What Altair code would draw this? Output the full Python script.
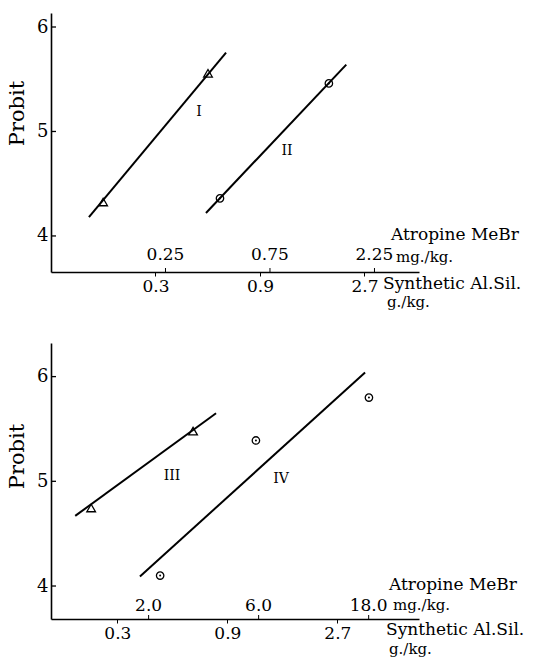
import altair as alt
import pandas as pd

FONT = "DejaVu Serif"

# ---------------- shared tick values ----------------
alsil_ticks = [0.3, 0.9, 2.7]            # Synthetic Al.Sil. g./kg.
y_ticks = [4, 5, 6]

# ---------------- panel 1 (I, II) ----------------
p1_tri_x = [0.173, 0.521]
p1_tri_y = [4.325, 5.557]
p1_circ_x = [0.591, 1.857]
p1_circ_y = [4.36, 5.46]
p1_lineI_x = [0.149, 0.630]
p1_lineI_y = [4.18, 5.755]
p1_lineII_x = [0.510, 2.23]
p1_lineII_y = [4.22, 5.64]
p1_lab = ["I", "II"]
p1_lab_x = [0.474, 1.195]
p1_lab_y = [5.19, 4.81]
p1_atropine = [0.25, 0.75, 2.25]          # Atropine MeBr mg./kg.
p1_atropine_lbl = ["0.25", "0.75", "2.25"]
p1_ratio = 1.333                          # Al.Sil. g per mg atropine on this axis
p1_xdom = [0.1, 4.79]
p1_ydom = [3.655, 6.134]

# ---------------- panel 2 (III, IV) ----------------
p2_tri_x = [0.231, 0.639]
p2_tri_y = [4.745, 5.48]
p2_circ_x = [0.46, 1.197, 3.70]
p2_circ_y = [4.10, 5.39, 5.80]
p2_lineIII_x = [0.197, 0.804]
p2_lineIII_y = [4.67, 5.65]
p2_lineIV_x = [0.376, 3.56]
p2_lineIV_y = [4.09, 6.04]
p2_lab = ["III", "IV"]
p2_lab_x = [0.518, 1.54]
p2_lab_y = [5.05, 5.02]
p2_atropine = [2.0, 6.0, 18.0]
p2_atropine_lbl = ["2.0", "6.0", "18.0"]
p2_ratio = 0.205
p2_xdom = [0.1547, 6.1]
p2_ydom = [3.685, 6.321]

W = 368


def panel(H, xdom, ydom, tri_x, tri_y, circ_x, circ_y, lines, lab, lab_x, lab_y,
          atro, atro_lbl, ratio, ttl, title_y):
    xs = alt.Scale(type="log", domain=xdom, nice=False)
    ys = alt.Scale(domain=ydom, nice=False, zero=False)
    xax = alt.Axis(values=alsil_ticks, format=".1f", grid=False, tickSize=4,
                   tickColor="black", domainColor="black", domainWidth=1.6,
                   labelFont=FONT, labelFontSize=17, labelColor="black",
                   labelPadding=2, title=None)
    yax = alt.Axis(values=y_ticks, format="d", grid=False, ticks=False,
                   domainColor="black", domainWidth=1.6, labelFont=FONT,
                   labelFontSize=18, labelColor="black", labelPadding=3,
                   title="Probit", titleFont=FONT, titleFontSize=21,
                   titleFontWeight="normal", titleColor="black",
                   titleX=-24, titleY=title_y)

    rows = []
    for name, (lx, ly) in lines.items():
        for a, b in zip(lx, ly):
            rows.append({"x": a, "y": b, "s": name})
    line_df = pd.DataFrame(rows)

    base_line = alt.Chart(line_df).mark_line(color="black", strokeWidth=2).encode(
        x=alt.X("x:Q", scale=xs, axis=xax),
        y=alt.Y("y:Q", scale=ys, axis=yax),
        detail="s:N",
    )

    tri = alt.Chart(pd.DataFrame({"x": tri_x, "y": tri_y})).mark_point(
        shape="triangle-up", filled=False, color="black", strokeWidth=1.3, size=75,
        opacity=1,
    ).encode(x=alt.X("x:Q", scale=xs), y=alt.Y("y:Q", scale=ys))

    circ_df = pd.DataFrame({"x": circ_x, "y": circ_y})
    circ = alt.Chart(circ_df).mark_point(
        shape="circle", filled=False, color="black", strokeWidth=1.3, size=55,
        opacity=1,
    ).encode(x=alt.X("x:Q", scale=xs), y=alt.Y("y:Q", scale=ys))
    dot = alt.Chart(circ_df).mark_point(
        shape="circle", filled=True, color="black", size=4, opacity=1,
    ).encode(x=alt.X("x:Q", scale=xs), y=alt.Y("y:Q", scale=ys))

    labs = alt.Chart(pd.DataFrame({"x": lab_x, "y": lab_y, "t": lab})).mark_text(
        font=FONT, fontSize=14, color="black",
    ).encode(x=alt.X("x:Q", scale=xs), y=alt.Y("y:Q", scale=ys), text="t:N")

    atro_df = pd.DataFrame({"dose": atro, "t": atro_lbl})
    atro_txt = alt.Chart(atro_df).transform_calculate(
        pos=f"datum.dose * {ratio}"
    ).mark_text(font=FONT, fontSize=17, color="black", baseline="middle").encode(
        x=alt.X("pos:Q", scale=xs), y=alt.value(H - ttl[0]), text="t:N")
    atro_tick = alt.Chart(atro_df).transform_calculate(
        pos=f"datum.dose * {ratio}"
    ).mark_rule(color="black", strokeWidth=1).encode(
        x=alt.X("pos:Q", scale=xs), y=alt.value(H), y2=alt.value(H - 4))

    ytick = alt.Chart(pd.DataFrame({"y": y_ticks})).mark_rule(
        color="black", strokeWidth=1.3).encode(
        y=alt.Y("y:Q", scale=ys), x=alt.value(0), x2=alt.value(5))

    def txt(s, x, y, size):
        return alt.Chart(pd.DataFrame({"t": [s]})).mark_text(
            font=FONT, fontSize=size, color="black", align="left",
            baseline="middle").encode(x=alt.value(x), y=alt.value(y), text="t:N")

    ann = (txt("Atropine MeBr", ttl[1], H - ttl[2], 17)
           + txt("mg./kg.", ttl[3], H - ttl[4], 15)
           + txt("Synthetic Al.Sil.", ttl[5], H + ttl[6], 17)
           + txt("g./kg.", ttl[7], H + ttl[8], 15))

    return alt.layer(base_line, tri, circ, dot, labs, atro_txt, atro_tick,
                     ytick, ann).properties(width=W, height=H)


top = panel(259, p1_xdom, p1_ydom, p1_tri_x, p1_tri_y, p1_circ_x, p1_circ_y,
            {"I": (p1_lineI_x, p1_lineI_y), "II": (p1_lineII_x, p1_lineII_y)},
            p1_lab, p1_lab_x, p1_lab_y, p1_atropine, p1_atropine_lbl, p1_ratio,
            [17, 340, 37, 345, 15, 332, 12, 336, 30], 100)
bottom = panel(276, p2_xdom, p2_ydom, p2_tri_x, p2_tri_y, p2_circ_x, p2_circ_y,
               {"III": (p2_lineIII_x, p2_lineIII_y), "IV": (p2_lineIV_x, p2_lineIV_y)},
               p2_lab, p2_lab_x, p2_lab_y, p2_atropine, p2_atropine_lbl, p2_ratio,
               [13, 338, 34, 342, 14, 335, 11, 338, 30], 113)

chart = alt.vconcat(top, bottom, spacing=71, bounds="flush").properties(
    padding={"left": 6, "top": 13, "right": 5, "bottom": 5},
    background="white",
).configure_view(stroke=None)

chart.save("out.html", embed_options={"renderer": "svg", "actions": False})
